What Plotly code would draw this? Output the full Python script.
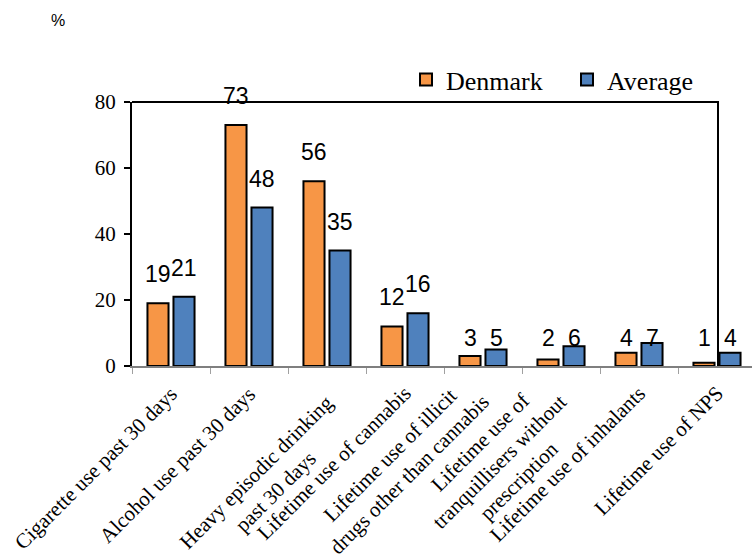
import plotly.graph_objects as go

categories = [
    "Cigarette use past 30 days",
    "Alcohol use past 30 days",
    "Heavy episodic drinking<br>past 30 days",
    "Lifetime use of cannabis",
    "Lifetime use of illicit<br>drugs other than cannabis",
    "Lifetime use of<br>tranquillisers without<br>prescription",
    "Lifetime use of inhalants",
    "Lifetime use of NPS",
]
denmark = [19, 73, 56, 12, 3, 2, 4, 1]
average = [21, 48, 35, 16, 5, 6, 7, 4]
y_ticks = [0, 20, 40, 60, 80]

ORANGE = "#F79646"
BLUE = "#4F81BD"
SERIF = "Liberation Serif, Times New Roman, serif"
SANS = "Liberation Sans, Arial, sans-serif"

W, H = 752, 558
L, R, T, B = 132, 0, 102, 192
plot_w = W - L - R
plot_h = H - T - B

fig = go.Figure()
fig.add_trace(go.Bar(name="Denmark", x=categories, y=denmark,
                     marker=dict(color=ORANGE, line=dict(color="black", width=2))))
fig.add_trace(go.Bar(name="Average", x=categories, y=average,
                     marker=dict(color=BLUE, line=dict(color="black", width=2))))

annotations = []
# data labels
cat_px = 78.0
for series, sign in ((denmark, -1), (average, 1)):
    for c, v in zip(categories, series):
        if v >= 10:
            yv, ys = v, 14
        else:
            yv, ys = 0, 13
        annotations.append(dict(x=c, y=yv, xref="x", yref="y", text=str(v),
                                showarrow=False, xanchor="center", yanchor="bottom",
                                xshift=sign * 13, yshift=ys,
                                font=dict(family=SANS, size=23, color="black")))

# category labels (rotated, centered lines)
fs = 21
lh = 1.3 * fs
for c in categories:
    lines = c.split("<br>")
    n = len(lines)
    k = max(range(n), key=lambda i: len(lines[i]))
    Hb = n * lh + 2
    xs = -7 + 0.707 * (Hb - k * lh)
    ytop = 379 + (8 if n > 1 else 0) - 0.707 * k * lh
    annotations.append(dict(x=c, y=0, xref="x", yref="y", text=c, showarrow=False,
                            textangle=-45, align="center", xanchor="right", yanchor="top",
                            xshift=xs, yshift=-(ytop - (T + plot_h)),
                            font=dict(family=SERIF, size=fs, color="black")))

# % label
annotations.append(dict(x=(58 - L) / plot_w, y=(T + plot_h - 21) / plot_h, xref="paper", yref="paper",
                        text="%", showarrow=False, xanchor="center", yanchor="middle",
                        font=dict(family=SANS, size=16, color="black")))

right_frac = (718 - L) / plot_w
shapes = [dict(type="path", xref="paper", yref="paper",
               path=f"M 0,1 L {right_frac},1 L {right_frac},0",
               line=dict(color="black", width=2))]

fig.update_layout(
    width=W, height=H,
    margin=dict(l=L, r=R, t=T, b=B, pad=0, autoexpand=False),
    paper_bgcolor="white", plot_bgcolor="white",
    barmode="group", bargap=0.333, bargroupgap=0.19,
    showlegend=True,
    legend=dict(orientation="h", x=(406 - L) / plot_w, y=(T + plot_h - 56) / plot_h,
                xanchor="left", yanchor="top",
                font=dict(family=SERIF, size=26, color="black"),
                bgcolor="rgba(0,0,0,0)", entrywidth=116, entrywidthmode="pixels"),
    xaxis=dict(type="category", range=[-0.5, -0.5 + plot_w / cat_px],
               showline=True, linecolor="#7f7f7f", linewidth=2,
               ticks="outside", tickson="boundaries", ticklen=6, tickcolor="#a0a0a0", tickwidth=1,
               showticklabels=False, showgrid=False, zeroline=False),
    yaxis=dict(range=[0, 80], tickvals=y_ticks, ticktext=[str(t) for t in y_ticks],
               showline=True, linecolor="black", linewidth=2,
               ticks="outside", ticklen=6, tickcolor="black", tickwidth=2,
               ticklabelstandoff=4,
               tickfont=dict(family=SERIF, size=21, color="black"),
               showgrid=False, zeroline=False),
    annotations=annotations,
    shapes=shapes,
)

fig.write_html("out.html", config={"displayModeBar": False},
               post_script="document.body.style.margin='0px';document.body.style.overflow='hidden';")
